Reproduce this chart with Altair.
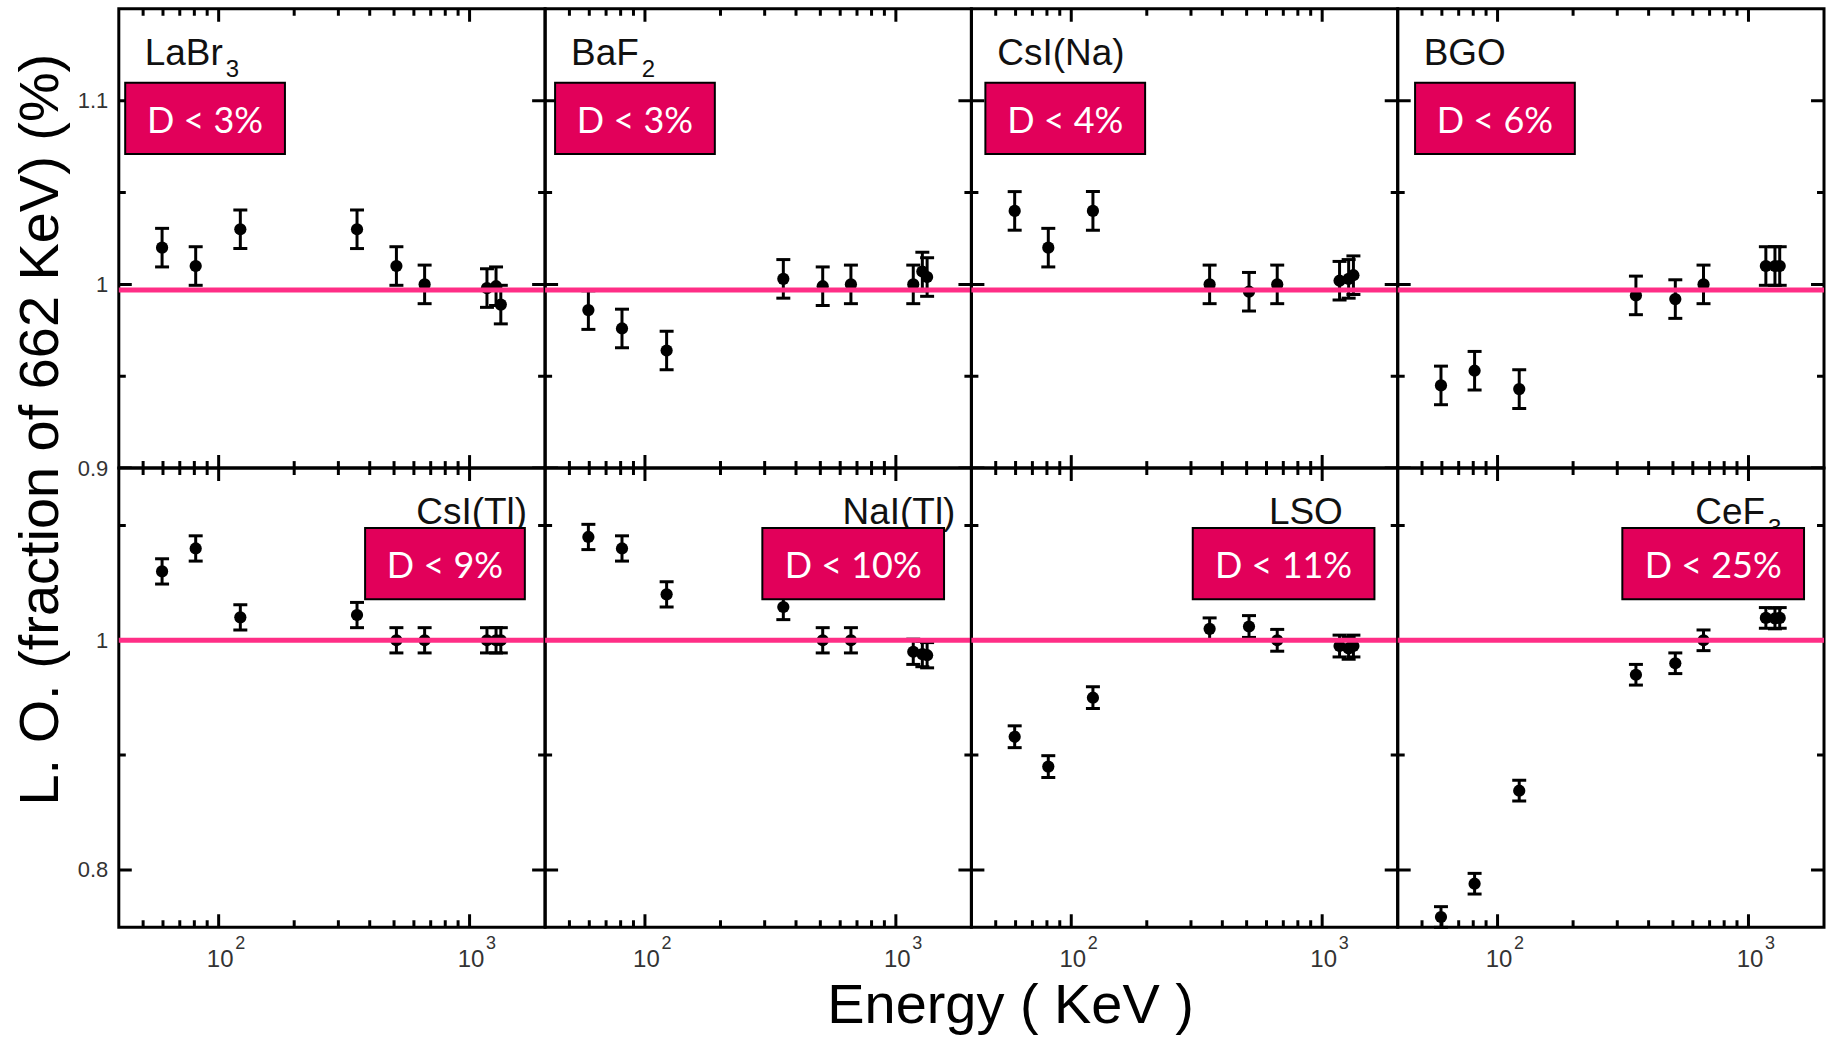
import altair as alt
import pandas as pd

# ---------------- data ----------------
energies = [59.5, 81, 122, 356, 511, 662, 1173, 1275, 1332]

crystal_names = ["LaBr", "BaF", "CsI(Na)", "BGO", "CsI(Tl)", "NaI(Tl)", "LSO", "CeF"]
crystal_subscripts = ["3", "2", "", "", "", "", "", "3"]
d_labels = ["D < 3%", "D < 3%", "D < 4%", "D < 6%", "D < 9%", "D < 10%", "D < 11%", "D < 25%"]

lo_labr3 = [1.020, 1.010, 1.030, 1.030, 1.010, 1.000, 0.998, 0.999, 0.989]
lo_baf2 = [0.986, 0.976, 0.964, 1.003, 0.999, 1.000, 1.000, 1.007, 1.004]
lo_csina = [1.040, 1.020, 1.040, 1.000, 0.996, 1.000, 1.002, 1.003, 1.005]
lo_bgo = [0.945, 0.953, 0.943, 0.994, 0.992, 1.000, 1.010, 1.010, 1.010]
lo_csitl = [1.060, 1.080, 1.020, 1.022, 1.000, 1.000, 1.000, 1.000, 1.000]
lo_nai = [1.090, 1.080, 1.040, 1.029, 1.000, 1.000, 0.990, 0.988, 0.987]
lo_lso = [0.916, 0.890, 0.950, 1.010, 1.012, 1.000, 0.995, 0.993, 0.995]
lo_cef3 = [0.759, 0.788, 0.869, 0.970, 0.980, 1.000, 1.0195, 1.019, 1.0195]
lo_series = [lo_labr3, lo_baf2, lo_csina, lo_bgo, lo_csitl, lo_nai, lo_lso, lo_cef3]
lo_errors = [0.0105, 0.0105, 0.0105, 0.0105, 0.011, 0.011, 0.0095, 0.009]

x_domain = [40, 2000]
x_major = [100, 1000]
x_minor = [50, 60, 70, 80, 90, 200, 300, 400, 500, 600, 700, 800, 900]

y_domains = [[0.9, 1.15], [0.75, 1.15]]
y_major = [[0.9, 1.0, 1.1], [0.8, 1.0]]
y_minor = [[0.95, 1.05], [0.9, 1.1]]
reference_levels = [0.997, 1.0]

y_title = "L. O. (fraction of 662 KeV) (%)"
x_title = "Energy ( KeV )"

# ---------------- layout / style ----------------
W, H = 427, 460
MAJ, MIN = 13, 7
PINK = "#FF2E86"
BOX = "#E2005A"
SANS = "Liberation Sans"

box_x0 = [6.4, 10, 14, 17.4, 246.7, 217.6, 221.7, 225]
box_w = [160, 160, 160, 160, 160, 182, 182, 182]
box_y0 = [74, 74, 74, 74, 60, 60, 60, 60]
box_h = 71.5
name_x = [26, 26, 26, 26, 298, 298, 298, 298]
name_y = 56
NAME_FS = 37
SUB_FS = 24
arial_w = {"L": .556, "a": .556, "B": .667, "r": .333, "F": .611, "C": .722, "e": .556}


def xs():
    return alt.Scale(type="log", domain=x_domain, nice=False)


def ys(row):
    return alt.Scale(domain=y_domains[row], nice=False, zero=False)


def make_panel(i):
    row, col = divmod(i, 4)
    vals = lo_series[i]
    err = lo_errors[i]
    df = pd.DataFrame({"E": energies, "LO": vals,
                       "lo": [v - err for v in vals], "hi": [v + err for v in vals]})
    caps = pd.DataFrame({"E": energies * 2,
                         "cap": [v - err for v in vals] + [v + err for v in vals]})

    # axes
    ax_main = None
    ax_sup = None
    if row == 1:
        title_kw = {"title": None}
        if col == 0:
            title_kw = {"title": x_title, "titleX": 892.7, "titleY": 95, "titleFontSize": 56,
                        "titleFont": SANS, "titleFontWeight": "normal",
                        "titleColor": "black", "titleAlign": "center",
                        "titleBaseline": "alphabetic"}
        ax_main = alt.Axis(orient="bottom", values=x_major, labelExpr="'10'",
                           ticks=False, domain=False, grid=False,
                           labelFontSize=24, labelFont=SANS, labelColor="#333",
                           labelBaseline="top", labelAlign="center", labelOffset=1,
                           labelPadding=20, labelFlush=False, **title_kw)
        ax_sup = alt.Axis(orient="bottom", values=x_major,
                          labelExpr="format(round(log(datum.value) / LN10), 'd')",
                          ticks=False, domain=False, grid=False,
                          labelFontSize=18, labelFont=SANS, labelColor="#333",
                          labelBaseline="top", labelAlign="left", labelOffset=16,
                          labelPadding=7, labelFlush=False, title=None)
    ax_y = None
    if col == 0:
        if row == 0:
            extra = {"title": y_title, "titleX": -61.6, "titleY": 421,
                     "titleAngle": 270, "titleFontSize": 56, "titleFont": SANS,
                     "titleFontWeight": "normal", "titleColor": "black",
                     "titleAlign": "center", "titleBaseline": "alphabetic"}
        else:
            extra = {"title": None}
        ax_y = alt.Axis(orient="left", values=y_major[row], format="~g",
                        ticks=False, domain=False, grid=False,
                        labelFontSize=22, labelFont=SANS, labelColor="#333",
                        labelPadding=11, **extra)

    base = alt.Chart(df)

    bars = base.mark_rule(color="black", strokeWidth=3).encode(
        x=alt.X("E:Q", scale=xs(), axis=ax_sup),
        y=alt.Y("lo:Q", scale=ys(row), axis=None),
        y2="hi:Q",
    )
    capmarks = alt.Chart(caps).mark_tick(orient="horizontal", size=14, thickness=3,
                                         color="black", opacity=1).encode(
        x=alt.X("E:Q", scale=xs(), axis=None),
        y=alt.Y("cap:Q", scale=ys(row), axis=None),
    )
    points = base.mark_circle(size=150, color="black", opacity=1).encode(
        x=alt.X("E:Q", scale=xs(), axis=ax_main),
        y=alt.Y("LO:Q", scale=ys(row), axis=ax_y),
    )

    # inward tick marks (clipped at the frame)
    xt = pd.DataFrame([{"E": v, "yt": edge, "L": 2 * (MAJ if v in x_major else MIN)}
                       for v in x_major + x_minor for edge in y_domains[row]])
    yt = pd.DataFrame([{"Ex": edge, "Y": v, "L": 2 * (MAJ if v in y_major[row] else MIN)}
                       for v in y_major[row] + y_minor[row] for edge in x_domain])
    xticks = alt.Chart(xt).mark_tick(orient="vertical", thickness=3, color="black",
                                     opacity=1, clip=True).encode(
        x=alt.X("E:Q", scale=xs(), axis=None),
        y=alt.Y("yt:Q", scale=ys(row), axis=None),
        size=alt.Size("L:Q", scale=None, legend=None),
    )
    yticks = alt.Chart(yt).mark_tick(orient="horizontal", thickness=3, color="black",
                                     opacity=1, clip=True).encode(
        x=alt.X("Ex:Q", scale=xs(), axis=None),
        y=alt.Y("Y:Q", scale=ys(row), axis=None),
        size=alt.Size("L:Q", scale=None, legend=None),
    )

    ref = alt.Chart(pd.DataFrame({"ref": [reference_levels[row]]})).mark_rule(
        color=PINK, strokeWidth=5).encode(y=alt.Y("ref:Q", scale=ys(row), axis=None))

    namedf = pd.DataFrame({"name": [crystal_names[i]], "sub": [crystal_subscripts[i]],
                           "d": [d_labels[i]]})
    name = alt.Chart(namedf).mark_text(align="left", baseline="alphabetic",
                                       fontSize=NAME_FS, font=SANS, color="#111").encode(
        x=alt.value(name_x[i]), y=alt.value(name_y), text="name:N")
    layers = [bars, capmarks, points, xticks, yticks, ref, name]
    if crystal_subscripts[i]:
        wmain = sum(arial_w.get(c, 0.556) for c in crystal_names[i]) * NAME_FS
        sub = alt.Chart(namedf).mark_text(align="left", baseline="alphabetic",
                                          fontSize=SUB_FS, font=SANS, color="#111").encode(
            x=alt.value(name_x[i] + wmain + 3), y=alt.value(name_y + 12), text="sub:N")
        layers.append(sub)

    box = alt.Chart(namedf).mark_rect(fill=BOX, stroke="black", strokeWidth=2,
                                      opacity=1).encode(
        x=alt.value(box_x0[i]), x2=alt.value(box_x0[i] + box_w[i]),
        y=alt.value(box_y0[i]), y2=alt.value(box_y0[i] + box_h))
    boxtext = alt.Chart(namedf).mark_text(align="center", baseline="alphabetic",
                                          fontSize=36, font="Lato", color="white").encode(
        x=alt.value(box_x0[i] + box_w[i] / 2), y=alt.value(box_y0[i] + 50), text="d:N")
    layers += [box, boxtext]

    return alt.layer(*layers).properties(width=W, height=H).resolve_axis(
        x="independent", y="independent")


panels = [make_panel(i) for i in range(8)]

chart = alt.concat(*panels, columns=4, spacing=0, bounds="flush").properties(
    padding={"left": 10, "top": 6, "right": 0, "bottom": 0},
    background="white",
).configure_view(stroke="black", strokeWidth=3)

chart.save("out.html", embed_options={"renderer": "svg", "actions": False})
